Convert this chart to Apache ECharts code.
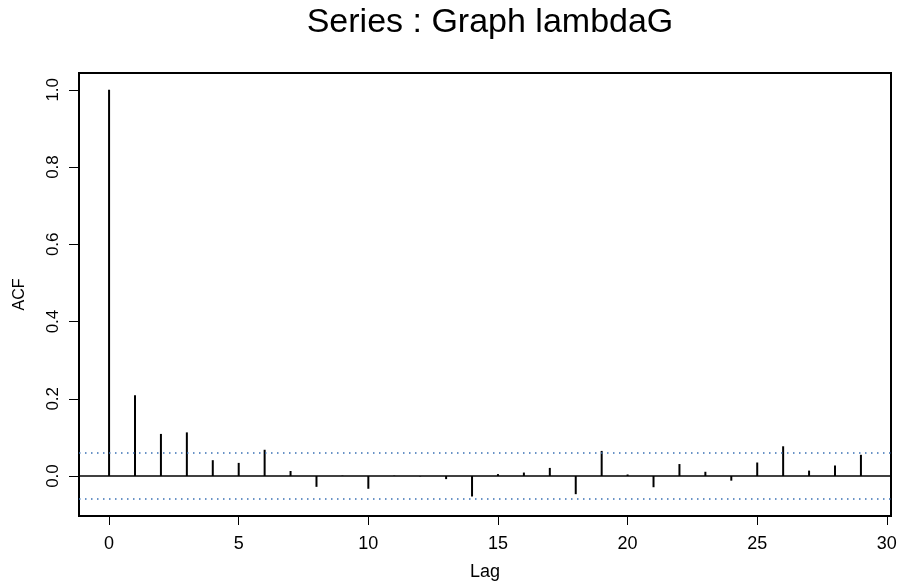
<!DOCTYPE html>
<html>
<head>
<meta charset="utf-8">
<title>Series : Graph lambdaG</title>
<script src="https://cdn.jsdelivr.net/npm/echarts@6/dist/echarts.min.js"></script>
<style>
  html, body { margin: 0; padding: 0; background: #fff; }
  #chart { width: 901px; height: 583px; }
</style>
</head>
<body>
<div id="chart"></div>
<script>
// lags and autocorrelation values
var lags = [0, 1, 2, 3, 4, 5, 6, 7, 8, 9, 10, 11, 12, 13, 14,
            15, 16, 17, 18, 19, 20, 21, 22, 23, 24, 25, 26, 27, 28, 29];
var acf = [1.0, 0.209, 0.109, 0.113, 0.041, 0.034, 0.068, 0.013, -0.028, 0.001,
           -0.033, 0.001, -0.001, -0.008, -0.053, 0.005, 0.009, 0.021, -0.047, 0.065,
           0.004, -0.029, 0.031, 0.011, -0.012, 0.035, 0.077, 0.014, 0.027, 0.055];
var ciBound = 0.062;
var xTicks = [0, 5, 10, 15, 20, 25, 30];
var yTicks = [0, 0.2, 0.4, 0.6, 0.8, 1.0];

var chart = echarts.init(document.getElementById('chart'));
var fontFam = 'Liberation Sans, Arial, sans-serif';

var option = {
  animation: false,
  title: {
    text: 'Series : Graph lambdaG',
    left: 485,
    textAlign: 'center',
    top: 1,
    textStyle: { fontFamily: fontFam, fontSize: 34, fontWeight: 'normal', color: '#000' }
  },
  grid: {
    left: 79, right: 10, top: 73, bottom: 67,
    outerBoundsMode: 'none',
    show: true, borderColor: '#000', borderWidth: 2, backgroundColor: 'transparent'
  },
  xAxis: {
    type: 'value',
    min: -1.16, max: 30.16,
    name: 'Lag', nameLocation: 'middle', nameGap: 47,
    nameTextStyle: { fontFamily: fontFam, fontSize: 18, color: '#000' },
    axisLine: { show: false, onZero: false },
    splitLine: { show: false },
    axisTick: { show: true, length: 9, customValues: xTicks, lineStyle: { color: '#000', width: 1 } },
    axisLabel: {
      customValues: xTicks, margin: 19,
      fontFamily: fontFam, fontSize: 18, color: '#000'
    }
  },
  yAxis: {
    type: 'value',
    min: -0.1035, max: 1.0435,
    name: 'ACF', nameLocation: 'middle', nameGap: 51, nameRotate: 90,
    nameTextStyle: { fontFamily: fontFam, fontSize: 16, color: '#000' },
    axisLine: { show: false, onZero: false },
    splitLine: { show: false },
    axisTick: { show: true, length: 10, customValues: yTicks, lineStyle: { color: '#000', width: 1 } },
    axisLabel: {
      customValues: yTicks, rotate: 90, margin: 17,
      fontFamily: fontFam, fontSize: 17, color: '#000',
      formatter: function (v) { return v.toFixed(1); }
    }
  },
  series: [{
    type: 'bar',
    barWidth: 2,
    itemStyle: { color: '#000' },
    data: lags.map(function (l, i) { return [l, acf[i]]; }),
    markLine: {
      silent: true,
      symbol: 'none',
      label: { show: false },
      data: [
        { yAxis: 0, lineStyle: { color: '#000', width: 1.5, type: 'solid' } },
        { yAxis: ciBound, lineStyle: { color: '#3a70b4', width: 1.5, type: [1.5, 4.5] } },
        { yAxis: -ciBound, lineStyle: { color: '#3a70b4', width: 1.5, type: [1.5, 4.5] } }
      ]
    }
  }]
};
chart.setOption(option);
</script>
</body>
</html>
